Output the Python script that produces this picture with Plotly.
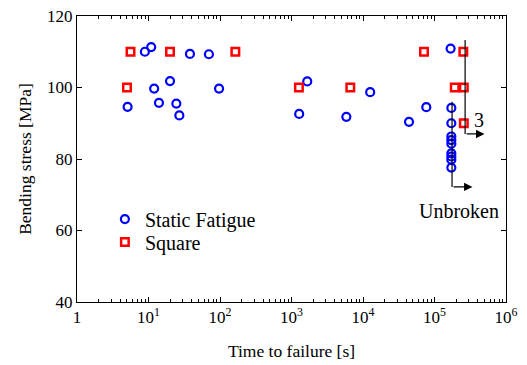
import plotly.graph_objects as go
import numpy as np

# Static fatigue (blue circles)
sf_time = [8.9, 10.9, 38, 70, 12, 20, 97, 5.1, 14, 24.5, 27,
           1660, 12600, 1280, 5850, 76800, 44000, 168000,
           172000, 172000, 172000, 172000, 172000, 172000, 172000, 172000, 172000]
sf_stress = [110.0, 111.3, 109.4, 109.3, 99.7, 101.8, 99.7, 94.6, 95.7, 95.5, 92.2,
             101.7, 98.7, 92.6, 91.8, 94.5, 90.4, 110.9,
             94.3, 90.0, 86.3, 85.3, 84.3, 81.6, 80.7, 79.8, 77.6]

# Square (red squares)
sq_time = [5.6, 20, 164, 5.0, 1270, 6640, 71300, 253000, 192000, 257000, 257000]
sq_stress = [110, 110, 110, 100, 100, 100, 110, 110, 100, 100, 90]

x_tickvals = [1, 10, 100, 1000, 10000, 100000, 1000000]
x_ticktext = ["1", "10<sup>1</sup>", "10<sup>2</sup>", "10<sup>3</sup>",
              "10<sup>4</sup>", "10<sup>5</sup>", "10<sup>6</sup>"]
y_tickvals = [40, 60, 80, 100, 120]

# Unbroken arrow annotations (time, stress)
unbroken_line_x = 176000
unbroken_line_y = [96, 72.2]
unbroken_arrow_end_x = 340000
three_line_x = 268000
three_line_y = [113.3, 87.0]
three_arrow_end_x = 500000

FONT = "Times New Roman"

fig = go.Figure()
fig.add_trace(go.Scatter(
    x=sf_time, y=sf_stress, mode="markers", name="Static Fatigue", legend="legend",
    marker=dict(symbol="circle-open", size=8, color="#0000ff",
                line=dict(width=2.2, color="#0000ff")),
))
fig.add_trace(go.Scatter(
    x=sq_time, y=sq_stress, mode="markers", name="Square", legend="legend2",
    marker=dict(symbol="square-open", size=7.5, color="#ff0000",
                line=dict(width=2.5, color="#ff0000")),
))

# vertical lines
fig.add_trace(go.Scatter(x=[unbroken_line_x, unbroken_line_x], y=unbroken_line_y,
                         mode="lines", line=dict(color="black", width=1.2),
                         showlegend=False, hoverinfo="skip"))
fig.add_trace(go.Scatter(x=[three_line_x, three_line_x], y=three_line_y,
                         mode="lines", line=dict(color="black", width=1.2),
                         showlegend=False, hoverinfo="skip"))

for (x0, x1, yv) in [(unbroken_line_x, unbroken_arrow_end_x, unbroken_line_y[1]),
                     (three_line_x, three_arrow_end_x, three_line_y[1])]:
    fig.add_annotation(x=np.log10(x1), y=yv, ax=np.log10(x0), ay=yv,
                       xref="x", yref="y", axref="x", ayref="y",
                       showarrow=True, arrowhead=2, arrowsize=1.3, arrowwidth=1.3,
                       arrowcolor="black", text="")

fig.add_annotation(x=np.log10(420000), y=91.0, xref="x", yref="y", text="3",
                   showarrow=False, font=dict(family=FONT, size=20, color="black"))
fig.add_annotation(x=np.log10(220000), y=65.5, xref="x", yref="y", text="Unbroken",
                   showarrow=False, font=dict(family=FONT, size=20, color="black"))

leg_common = dict(xanchor="left", yanchor="middle", bgcolor="rgba(0,0,0,0)",
                  font=dict(family=FONT, size=20), itemwidth=30)

fig.update_layout(
    width=527, height=365,
    margin=dict(l=77, r=21, t=16, b=63),
    paper_bgcolor="white", plot_bgcolor="white",
    font=dict(family=FONT, size=17, color="black"),
    showlegend=True,
    legend=dict(x=0.065, y=0.290, **leg_common),
    legend2=dict(x=0.065, y=0.210, **leg_common),
    xaxis=dict(type="log", range=[0, 6], showline=True, linecolor="black", linewidth=1,
               mirror="ticks", ticks="inside", ticklen=5, tickcolor="black",
               tickvals=x_tickvals, ticktext=x_ticktext, showgrid=False, zeroline=False,
               automargin=False, tickfont=dict(size=17),
               minor=dict(ticks="inside", ticklen=3, tickcolor="black",
                          tickvals=[m * 10 ** e for e in range(6) for m in range(2, 10)]),
               title=dict(text="Time to failure [s]", font=dict(family=FONT, size=17.5),
                          standoff=18)),
    yaxis=dict(range=[40, 120], showline=True, linecolor="black", linewidth=1,
               mirror="ticks", ticks="inside", ticklen=5, tickcolor="black",
               tickvals=y_tickvals, showgrid=False, zeroline=False, automargin=False,
               tickfont=dict(size=17),
               title=dict(text="Bending stress [MPa]", font=dict(family=FONT, size=17.5),
                          standoff=10)),
)

fig.write_html("out.html", config={"displayModeBar": False},
               post_script="document.body.style.margin='0';")
